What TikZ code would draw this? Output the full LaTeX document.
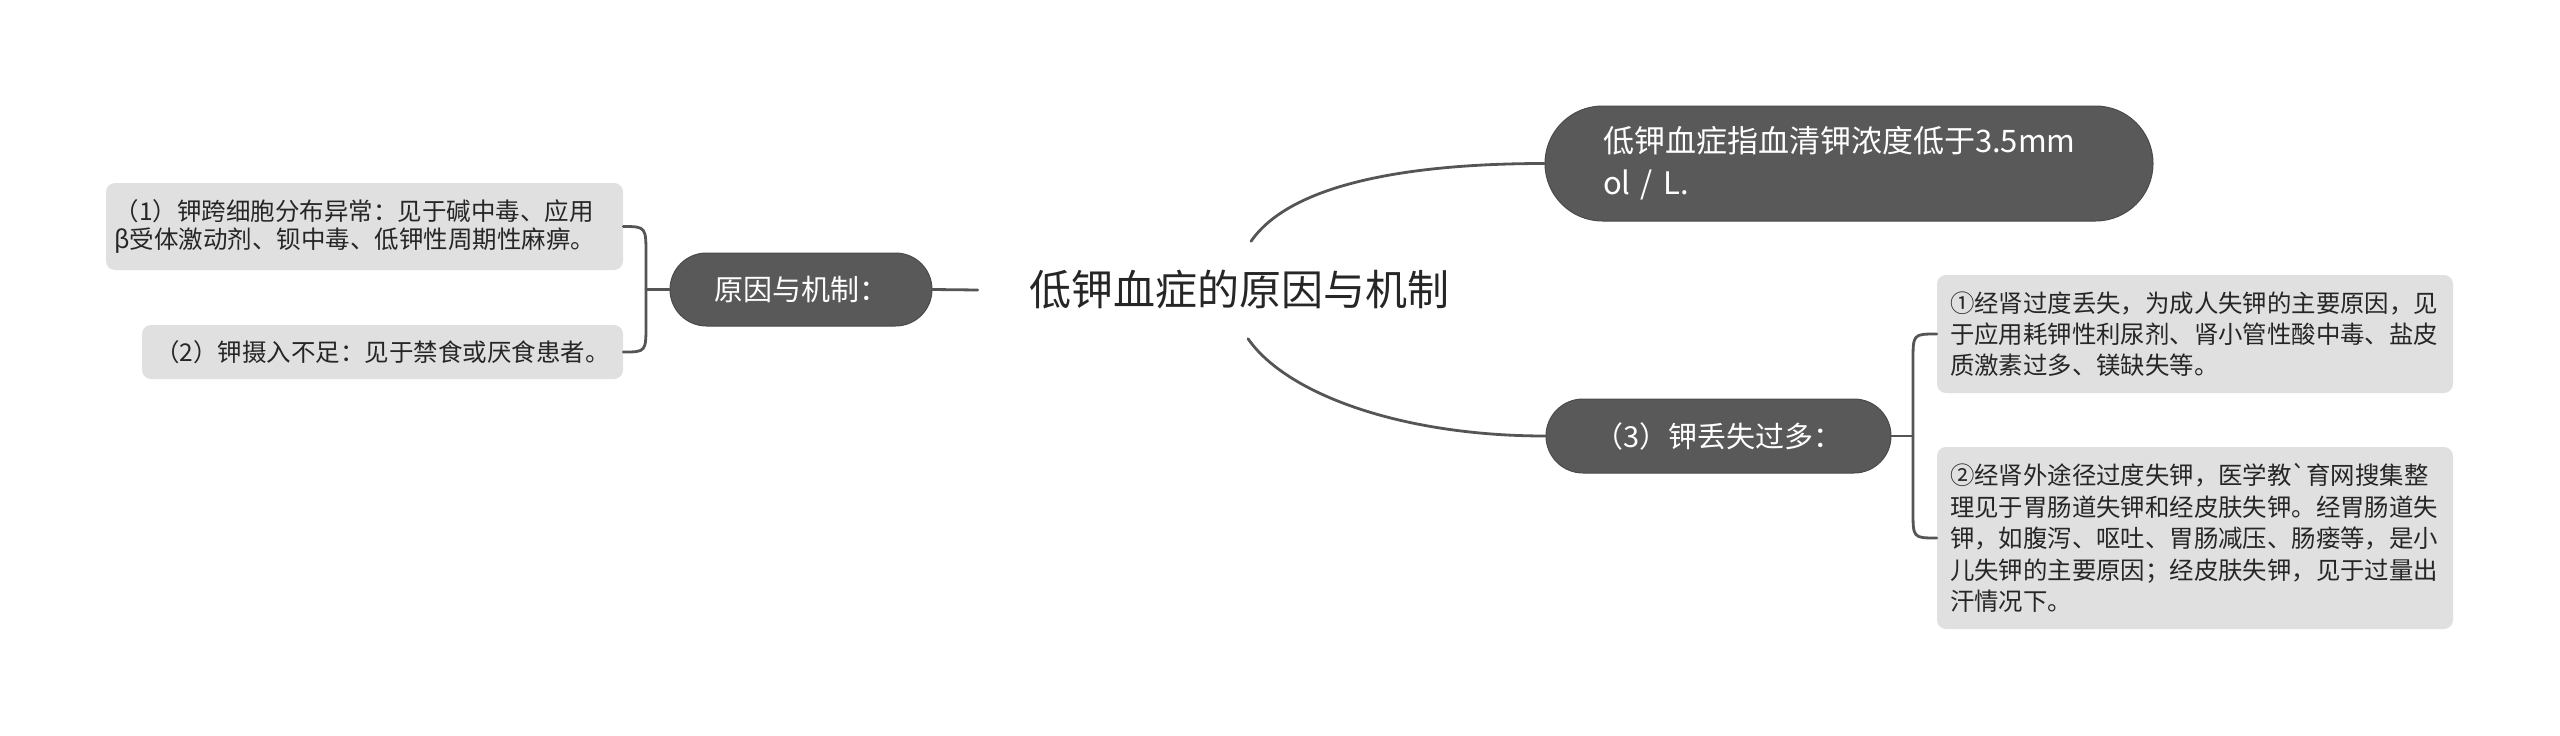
\documentclass[tikz,border=0pt]{standalone}
\usepackage{fontspec}
\newfontfamily\cjk{Noto Sans CJK SC}
\definecolor{pillfill}{HTML}{595959}
\definecolor{pilledge}{HTML}{4A4A4A}
\definecolor{leaffill}{HTML}{E0E0E0}
\definecolor{conncol}{HTML}{555555}
\definecolor{txtdark}{HTML}{262626}
\begin{document}
\begin{tikzpicture}[x=1pt,y=-1pt,
  pill/.style={fill=pillfill, draw=pilledge, line width=1pt, rounded corners=#1,
    text=white, inner sep=0pt},
  leafbox/.style={fill=leaffill, draw=none, rounded corners=9pt, text=txtdark,
    inner sep=0pt},
  conn/.style={draw=conncol, line width=2.8pt, line cap=round},
  roottext/.style={text=txtdark, inner xsep=51pt, inner ysep=29pt,
    font=\cjk\fontsize{42}{50}\selectfont}
]
\useasboundingbox (0,0) rectangle (2560,736);

% root
\node[roottext] (root) at (1239,290) {低钾血症的原因与机制};

% left branch
\node[pill=36.5pt, minimum width=262pt, minimum height=73pt,
  font=\cjk\fontsize{29}{34}\selectfont] (p1) at (801,289.5) {原因与机制：};
\node[leafbox, minimum width=517pt, minimum height=87pt, text width=500pt,
  align=left, font=\cjk\fontsize{24.5}{28}\selectfont] (l1) at (364.5,226.5)
  {（1）钾跨细胞分布异常：见于碱中毒、应用\\β受体激动剂、钡中毒、低钾性周期性麻痹。};
\node[leafbox, minimum width=481pt, minimum height=54pt,
  font=\cjk\fontsize{24.5}{28}\selectfont] (l2) at (382.5,352)
  {（2）钾摄入不足：见于禁食或厌食患者。};

% right branches
\node[pill=57.5pt, minimum width=608pt, minimum height=115pt, text width=492pt,
  align=left, font=\cjk\fontsize{31}{42}\selectfont] (t) at (1849,163.5)
  {低钾血症指血清钾浓度低于3.5mm\\ol / L.};
\node[pill=37pt, minimum width=345pt, minimum height=74pt,
  font=\cjk\fontsize{29}{34}\selectfont] (p3) at (1718.5,436) {（3）钾丢失过多：};
\node[leafbox, minimum width=516pt, minimum height=118pt, text width=490pt,
  align=left, font=\cjk\fontsize{24.4}{31}\selectfont] (r1) at (2195,334)
  {①经肾过度丢失，为成人失钾的主要原因，见\\于应用耗钾性利尿剂、肾小管性酸中毒、盐皮\\质激素过多、镁缺失等。};
\node[leafbox, minimum width=516pt, minimum height=182pt, text width=490pt,
  align=left, font=\cjk\fontsize{24.4}{31.5}\selectfont] (r2) at (2195,538)
  {②经肾外途径过度失钾，医学教\char"60 育网搜集整\\理见于胃肠道失钾和经皮肤失钾。经胃肠道失\\钾，如腹泻、呕吐、胃肠减压、肠瘘等，是小\\儿失钾的主要原因；经皮肤失钾，见于过量出\\汗情况下。};

% bracket coordinates
\coordinate (lbtop) at (646,256);
\coordinate (lbmid) at (646,289.5);
\coordinate (lbbot) at (646,323);
\coordinate (rbtop) at (1913,362);
\coordinate (rbmid) at (1913,436);
\coordinate (rbbot) at (1913,510);

% connectors
\draw[conn] (p1.east) -- (root.west);
\draw[conn] (lbmid) -- (p1.west);
\draw[conn] (l1.east) .. controls +(23,0) and +(0,-29) .. (lbtop) -- (lbbot)
  .. controls +(0,29) and +(23,0) .. (l2.east);

\draw[conn] ([xshift=12pt]root.north) .. controls +(38,-55) and +(-145,0) .. (t.west);
\draw[conn] ([xshift=9pt]root.south) .. controls +(38,55) and +(-145,0) .. (p3.west);

\draw[conn] (p3.east) -- (rbmid);
\draw[conn] (r1.west) .. controls +(-24,0) and +(0,-28) .. (rbtop) -- (rbbot)
  .. controls +(0,28) and +(-24,0) .. (r2.west);
\end{tikzpicture}
\end{document}
